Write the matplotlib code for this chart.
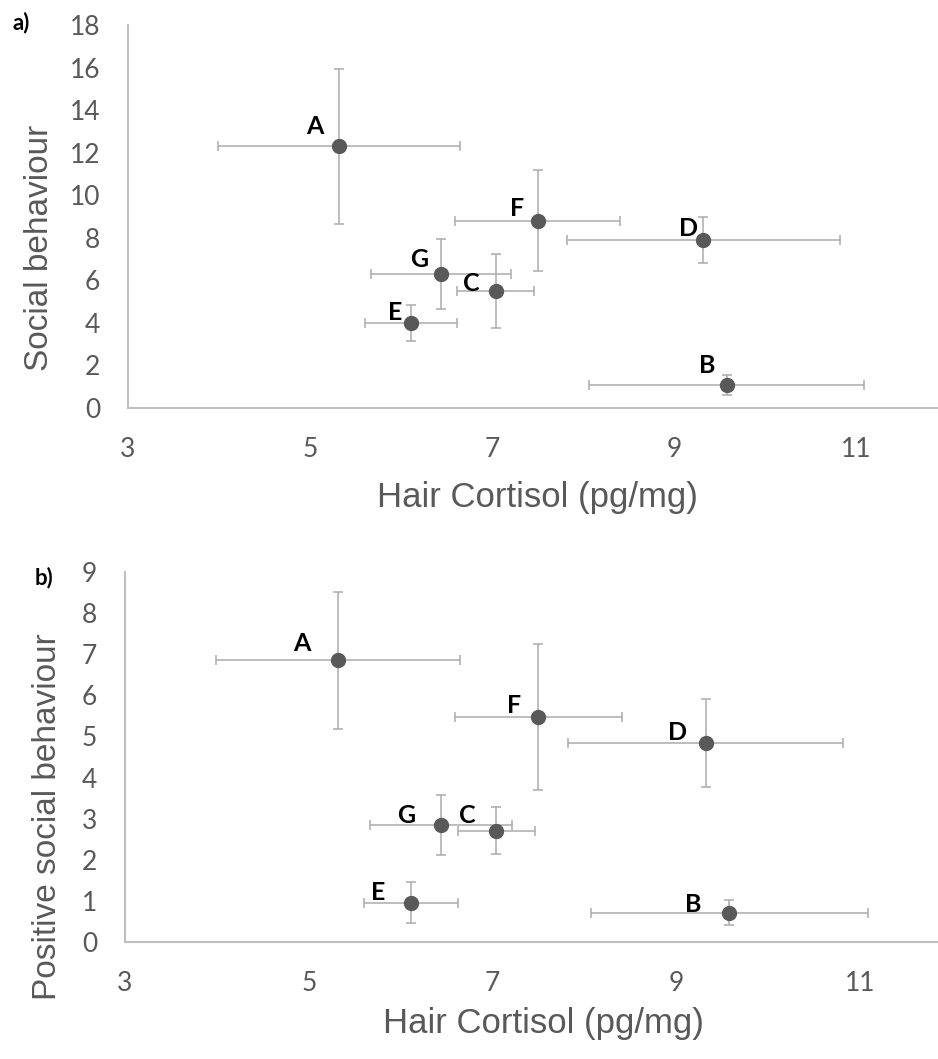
import matplotlib
matplotlib.use('Agg')
import matplotlib.pyplot as plt

# group labels and data
groups = ['A', 'B', 'C', 'D', 'E', 'F', 'G']
cortisol = [5.32, 9.58, 7.04, 9.32, 6.11, 7.50, 6.44]
cortisol_err = [1.33, 1.51, 0.42, 1.50, 0.51, 0.91, 0.77]

social = [12.3, 1.1, 5.5, 7.9, 4.0, 8.8, 6.3]
social_err = [3.63, 0.47, 1.73, 1.08, 0.83, 2.37, 1.65]

pos_social = [6.85, 0.71, 2.71, 4.84, 0.96, 5.47, 2.84]
pos_social_err = [1.67, 0.30, 0.58, 1.06, 0.50, 1.78, 0.73]

y_ticks_a = list(range(0, 19, 2))
y_ticks_b = list(range(0, 10))
x_ticks = [3, 5, 7, 9, 11]

# label offsets in pixels (dx, dy) from each point
offsets_a = {'A': (-24, 20), 'B': (-20, 19), 'C': (-24, 7), 'D': (-15, 11),
             'E': (-16, 10), 'F': (-20, 12), 'G': (-22, 14)}
offsets_b = {'A': (-36, 17), 'B': (-36, 8), 'C': (-29, 15), 'D': (-28, 11),
             'E': (-33, 10), 'F': (-24, 12), 'G': (-35, 10)}

W, H = 938, 1059
fig = plt.figure(figsize=(W / 100, H / 100), dpi=100)

axis_grey = '#bfbfbf'
text_grey = '#595959'
tick_font = 'Lato'
title_font = 'Liberation Sans'


def draw_panel(ax, yvals, yerr, yticks, xmax, offsets):
    ax.errorbar(cortisol, yvals, xerr=cortisol_err, yerr=yerr, fmt='none',
                ecolor='#ababab', elinewidth=1.1, capsize=3.6, capthick=1.1, zorder=2)
    ax.plot(cortisol, yvals, 'o', color=text_grey, markersize=10, zorder=3)
    for g, xv, yv in zip(groups, cortisol, yvals):
        ax.annotate(g, (xv, yv), xytext=offsets[g], textcoords='offset pixels',
                    ha='center', va='center', fontsize=18, fontweight='bold',
                    family=tick_font, color='black')
    ax.set_xlim(3, xmax)
    ax.set_ylim(0, yticks[-1])
    ax.set_xticks(x_ticks)
    ax.set_yticks(yticks)
    for side in ['top', 'right']:
        ax.spines[side].set_visible(False)
    for side in ['left', 'bottom']:
        ax.spines[side].set_color(axis_grey)
        ax.spines[side].set_linewidth(1.5)
    ax.tick_params(length=0, labelsize=19, labelcolor=text_grey)
    ax.tick_params(axis='x', pad=21)
    ax.tick_params(axis='y', pad=20)
    for lab in ax.get_xticklabels() + ax.get_yticklabels():
        lab.set_family(tick_font)
    ax.set_facecolor('none')


# panel a
ax1 = fig.add_axes([128 / W, 1 - 408 / H, (W - 128) / W, (408 - 25) / H])
draw_panel(ax1, social, social_err, y_ticks_a, 11.9, offsets_a)

# panel b
ax2 = fig.add_axes([125 / W, 1 - 942 / H, (W - 125) / W, (942 - 572) / H])
draw_panel(ax2, pos_social, pos_social_err, y_ticks_b, 11.85, offsets_b)

# axis titles
fig.text(537 / W, 1 - 497 / H, 'Hair Cortisol (pg/mg)', ha='center', va='center',
         fontsize=25, color=text_grey, family=title_font)
fig.text(40 / W, 1 - 248 / H, 'Social behaviour', ha='center', va='center',
         rotation=90, fontsize=24, color=text_grey, family=title_font)
fig.text(543 / W, 1 - 1024 / H, 'Hair Cortisol (pg/mg)', ha='center', va='center',
         fontsize=25, color=text_grey, family=title_font)
fig.text(48 / W, 1 - 817 / H, 'Positive social behaviour', ha='center', va='center',
         rotation=90, fontsize=24, color=text_grey, family=title_font)

# panel letters
fig.text(21 / W, 1 - 23 / H, 'a)', ha='center', va='center', fontsize=16,
         fontweight='bold', family=tick_font)
fig.text(44 / W, 1 - 578 / H, 'b)', ha='center', va='center', fontsize=16,
         fontweight='bold', family=tick_font)

fig.savefig('out.png', dpi=100)
